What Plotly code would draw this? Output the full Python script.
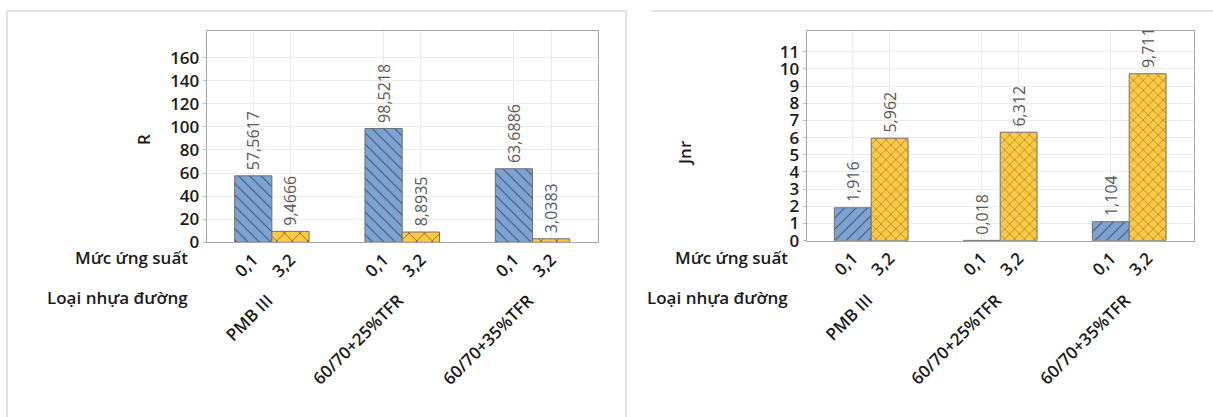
import plotly.graph_objects as go

# ---------------- data ----------------
groups = ["PMB III", "60/70+25%TFR", "60/70+35%TFR"]
stress = ["0,1", "3,2"]
R_01 = [57.5617, 98.5218, 63.6886]
R_32 = [9.4666, 8.8935, 3.0383]
Jnr_01 = [1.916, 0.018, 1.104]
Jnr_32 = [5.962, 6.312, 9.711]
R_ticks = [0, 20, 40, 60, 80, 100, 120, 140, 160]
Jnr_ticks = list(range(0, 12))

# ---------------- style ----------------
W, H = 1213, 417
FONT = "Open Sans"
BLUE = "#7BA3D6"
YELLOW = "#FFC940"
GRID = "#EBEBEB"
FRAME = "#A6A6A6"
LABEL = "#595959"
STEP = 3.5  # group spacing in bar widths


def px_x(p):
    return p / W


def px_y(p):
    return (H - p) / H


def fmt(v, d):
    return "\u2009" + f"{v:.{d}f}".replace(".", ",")


xpos = [[g * STEP + i for g in range(len(groups))] for i in range(len(stress))]
centers = sorted(xpos[0] + xpos[1])
tick_text = [stress[i] for g in range(len(groups)) for i in range(len(stress))]
gcenters = [g * STEP + 0.5 for g in range(len(groups))]

fig = go.Figure()

panels = [
    dict(xa="x", ya="y", v01=R_01, v32=R_32, dec=4, shape01="\\", xsize=11),
    dict(xa="x2", ya="y2", v01=Jnr_01, v32=Jnr_32, dec=3, shape01="/", xsize=7),
]

for p in panels:
    for i, (vals, color, shape, size) in enumerate([
        (p["v01"], BLUE, p["shape01"], 8),
        (p["v32"], YELLOW, "x", p["xsize"]),
    ]):
        fig.add_trace(go.Bar(
            x=xpos[i], y=vals, width=1,
            xaxis=p["xa"], yaxis=p["ya"],
            text=[fmt(v, p["dec"]) for v in vals],
            textposition="outside", textangle=-90,
            cliponaxis=True, constraintext="none",
            textfont=dict(family=FONT, size=16, color=LABEL),
            marker=dict(
                color=color,
                line=dict(color="#707070", width=1),
                pattern=dict(shape=shape, size=size, solidity=0.12,
                             fgcolor="#4D4D4D", bgcolor=color, fillmode="replace"),
            ),
            showlegend=False, hoverinfo="skip",
        ))

xrange = [-1.25, (len(groups) - 1) * STEP + 1 + 1.25]
tickfont = dict(family=FONT, size=17, color="#1A1A1A", weight=600)

common_x = dict(range=xrange, tickmode="array", tickvals=centers, ticktext=tick_text,
                tickangle=-45, showgrid=True, gridcolor=GRID, showline=True,
                linecolor=FRAME, mirror=True, zeroline=False, ticks="",
                tickfont=tickfont, automargin=False, fixedrange=True)
common_y = dict(showgrid=True, gridcolor=GRID, showline=True, linecolor=FRAME,
                mirror=True, zeroline=False, ticks="outside", ticklen=3,
                tickcolor="#BDBDBD", tickfont=tickfont, automargin=False,
                fixedrange=True)

fig.update_layout(
    width=W, height=H,
    margin=dict(l=0, r=0, t=0, b=0),
    paper_bgcolor="white", plot_bgcolor="white",
    barmode="overlay",
    xaxis=dict(domain=[px_x(206.7), px_x(597.7)], anchor="y", **common_x),
    yaxis=dict(domain=[px_y(242.3), px_y(31)], anchor="x", range=[0, 183],
               tickmode="array", tickvals=R_ticks, **common_y),
    xaxis2=dict(domain=[px_x(806.7), px_x(1193.7)], anchor="y2", **common_x),
    yaxis2=dict(domain=[px_y(240.7), px_y(31)], anchor="x2", range=[0, 12.2],
                tickmode="array", tickvals=Jnr_ticks, **common_y),
)

annfont = dict(family=FONT, size=17, color="#1A1A1A", weight=600)
anns = []
# axis titles
anns.append(dict(text="R", x=px_x(130), y=px_y(132), xref="paper", yref="paper",
                 textangle=-90, showarrow=False, font=annfont))
anns.append(dict(text="Jnr", x=px_x(684), y=px_y(138), xref="paper", yref="paper",
                 textangle=-90, showarrow=False, font=annfont))
# row labels
for xr in (190, 790):
    anns.append(dict(text="Mức ứng suất", x=px_x(xr), y=px_y(258), xref="paper", yref="paper",
                     xanchor="right", yanchor="middle", showarrow=False, font=annfont))
    anns.append(dict(text="Loại nhựa đường", x=px_x(xr), y=px_y(297), xref="paper", yref="paper",
                     xanchor="right", yanchor="middle", showarrow=False, font=annfont))
# group labels
for xa in ("x", "x2"):
    for g, name in enumerate(groups):
        anns.append(dict(text=name, x=gcenters[g], xref=xa, xshift=8,
                         y=px_y(286), yref="paper", xanchor="right", yanchor="top",
                         textangle=-45, showarrow=False, font=annfont))
fig.update_layout(annotations=anns)

# panel frames
fig.update_layout(shapes=[
    dict(type="rect", xref="paper", yref="paper", x0=px_x(7), x1=px_x(626),
         y0=-0.1, y1=px_y(11), line=dict(color="#DCDCDC", width=1.5)),
    dict(type="line", xref="paper", yref="paper", x0=px_x(651), x1=1.0,
         y0=px_y(11), y1=px_y(11), line=dict(color="#DCDCDC", width=1.5)),
])

fig.write_html("out.html")
